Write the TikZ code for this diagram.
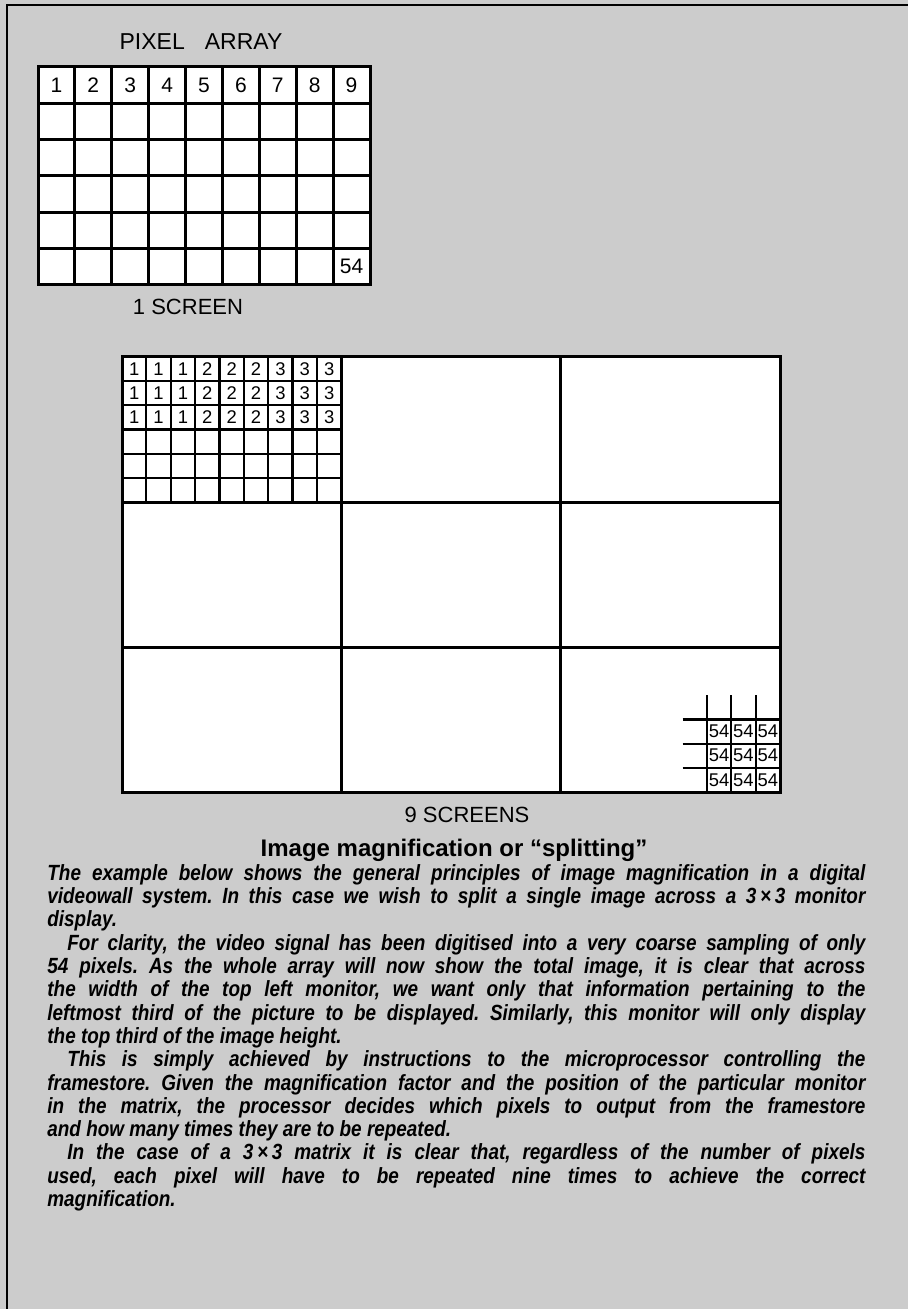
\documentclass[tikz,border=0pt]{standalone}
\usepackage{fontspec}
\setmainfont{Liberation Sans}
\newfontfamily\notefont{Liberation Sans}[FakeStretch=0.86, Ligatures=TeX]
\usetikzlibrary{positioning}

\begin{document}
\begin{tikzpicture}[
  x=0.5pt, y=-0.5pt,
  heavy/.style={line width=1.5pt},
  light/.style={line width=1.1pt},
  bignum/.style={font=\fontsize{10.5}{12}\selectfont, inner sep=0pt},
  smallnum/.style={font=\fontsize{9.2}{10}\selectfont, inner sep=0pt},
  caption/.style={font=\fontsize{11}{13}\selectfont, inner sep=0pt},
  bodytext/.style={font=\notefont\fontsize{11}{11.65}\selectfont\bfseries\itshape\frenchspacing, inner sep=0pt, text width=409pt, align=justify, anchor=north west}
]

% Page, grey backing and frame
\useasboundingbox (0,0) rectangle (908,1309);
\fill[black!20] (0,0) rectangle (908,1309);
\draw[line width=1.2pt] (7,1309) -- (7,5) -- (908,5);

% Pixel array (9 x 6)
\node[caption, font=\fontsize{11.5}{13}\selectfont] (title) at (201,42) {PIXEL\hspace{10pt}ARRAY};
\fill[white] (38,67) rectangle (370,285);
\foreach \i in {1,...,8} {
  \draw[heavy] ({38+\i*332/9},67) -- ++(0,218);
}
\foreach \j in {1,...,5} {
  \draw[heavy] (38,{67+\j*218/6}) -- ++(332,0);
}
\draw[heavy] (38,67) rectangle (370,285);
\foreach \i in {1,...,9} {
  \node[bignum] (px\i) at ({38+(\i-0.5)*332/9},{67+218/12}) {\i};
}
\node[bignum] (px54) at ({38+8.5*332/9},{67+11*218/12}) {54};
\node[caption] (cap1) at (188,307) {1 SCREEN};

% Nine screens
\fill[white] (122,357) rectangle (780,792);

% Top left screen split into the pixel array
\foreach \i in {1,...,8} {
  \draw[light] ({122+\i*658/27},357) -- ++(0,145);
}
\foreach \j in {1,...,5} {
  \draw[light] (122,{357+\j*435/18}) -- ++(219.33,0);
}
\foreach \r in {1,2,3} {
  \foreach \i in {1,...,9} {
    \pgfmathtruncatemacro{\v}{int((\i-1)/3)+1}
    \node[smallnum] (sub-\r-\i) at ({122+(\i-0.5)*658/27},{357+(\r-0.5)*435/18}) {\v};
  }
}

% Bottom right screen, last pixel repeated
\foreach \k in {1,2,3} {
  \draw[light] ({780-\k*658/27},{792-4*435/18}) -- ++(0,{4*435/18});
  \draw[light] ({780-4*658/27},{792-\k*435/18}) -- ++({4*658/27},0);
}
\foreach \r in {1,2,3} {
  \foreach \c in {1,2,3} {
    \node[smallnum] (last-\r-\c) at ({780-(\c-0.5)*658/27},{792-(\r-0.5)*435/18}) {54};
  }
}

% Screen borders
\draw[heavy] (341.33,357) -- (341.33,792);
\draw[heavy] (560.67,357) -- (560.67,792);
\draw[heavy] (122,502) -- (780,502);
\draw[heavy] (122,647) -- (780,647);
\draw[heavy] (122,357) rectangle (780,792);
\node[caption] (cap9) at (467,815) {9 SCREENS};

% Explanation
\node[font=\fontsize{12}{13}\selectfont\bfseries, inner sep=0pt] (heading) at (454,850) {Image magnification or ``splitting''};
\node[bodytext] (body) at (47,864) {%
The example below shows the general principles of image magnification in a digital\linebreak
videowall system. In this case we wish to split a single image across a 3\,×\,3 monitor\linebreak
display.\par
\hspace*{10pt}For clarity, the video signal has been digitised into a very coarse sampling of only\linebreak
54 pixels. As the whole array will now show the total image, it is clear that across\linebreak
the width of the top left monitor, we want only that information pertaining to the\linebreak
leftmost third of the picture to be displayed. Similarly, this monitor will only display\linebreak
the top third of the image height.\par
\hspace*{10pt}This is simply achieved by instructions to the microprocessor controlling the\linebreak
framestore. Given the magnification factor and the position of the particular monitor\linebreak
in the matrix, the processor decides which pixels to output from the framestore\linebreak
and how many times they are to be repeated.\par
\hspace*{10pt}In the case of a 3\,×\,3 matrix it is clear that, regardless of the number of pixels\linebreak
used, each pixel will have to be repeated nine times to achieve the correct\linebreak
magnification.};

\end{tikzpicture}
\end{document}
